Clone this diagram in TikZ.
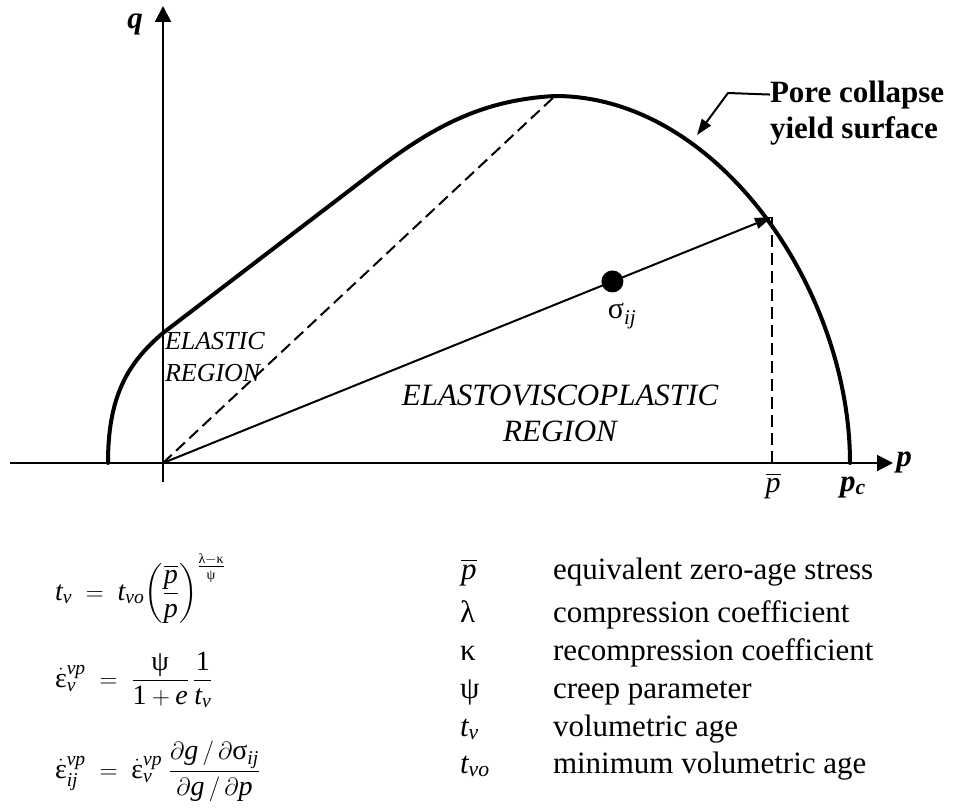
\documentclass[tikz,border=0pt]{standalone}
\usepackage{amsmath}
\usepackage{fontspec}
\setmainfont{Liberation Serif}
\usetikzlibrary{arrows.meta,calc}
\newcommand{\mi}[1]{\text{\normalfont\itshape #1}}
\newcommand{\mr}[1]{\text{\normalfont #1}}
\newcommand{\fs}[1]{\fontsize{#1}{#1}\selectfont}
\begin{document}
\begin{tikzpicture}[x=1pt,y=-1pt,
  axis/.style={line width=2pt,-{Triangle[length=16pt,width=16pt]}},
  curve/.style={line width=4pt,line join=round,line cap=round},
  dashline/.style={line width=2pt,dash pattern=on 12pt off 6pt},
  vec/.style={line width=2pt,-{Triangle[length=17pt,width=11pt]}},
  leader/.style={line width=2pt,-{Triangle[length=16pt,width=11pt]}},
  txt/.style={inner sep=0pt,outer sep=0pt},
  lbl/.style={txt,anchor=base west,font=\fs{31}},
  sym/.style={txt,anchor=base west,font=\fs{31}},
  eq/.style={txt,anchor=base west,font=\fs{28}},
  dot/.style={circle,fill=black,inner sep=0pt,minimum size=22pt}]
\useasboundingbox (0,0) rectangle (955,808);
% coordinates
\coordinate (O) at (163,463);
\coordinate (xL) at (10,463);
\coordinate (xR) at (893,463);
\coordinate (yB) at (163,482);
\coordinate (yT) at (163,6);
\coordinate (C0) at (108,463);
\coordinate (C1) at (163,333);
\coordinate (C2) at (367,177);
\coordinate (P) at (555,96);
\coordinate (pc) at (850,463);
\coordinate (S) at (772,217);
\coordinate (L2) at (728,93);
\coordinate (L3) at (697,135);
% axes
\draw[axis] (yB) -- (yT);
\draw[axis] (xL) -- (xR);
% dashed guides
\draw[dashline] (O) -- (P);
\draw[dashline] (S) -- (S |- O);
% yield surface
\draw[curve] (C0) .. controls (108,400) and (125,365) .. (C1)
  -- (C2) .. controls (430,128) and (480,100) .. (P)
  .. controls (718,96) and (850,290) .. (pc);
% stress path
\draw[vec] (O) -- (S);
\node[dot] (sig) at ($(O)!0.738!(S)$) {};
\node[txt,font=\fs{30}] (siglbl) at (622,316) {$\mr{σ}_{\mi{ij}}$};
% axis labels
\node[txt,font=\fs{31}\bfseries\itshape] (qlbl) at (135,24) {q};
\node[txt,font=\fs{31}\bfseries\itshape] (plbl) at (904,462) {p};
\node[txt,font=\fs{30}] (pbarlbl) at (773,486) {$\overline{\mi{p}}$};
\node[txt,font=\fs{31}\bfseries\itshape] (pclbl) at (853,487) {p\textsubscript{c}};
% region labels
\node[txt,anchor=base west,font=\fs{26}\itshape] (el1) at (165,349) {ELASTIC};
\node[txt,anchor=base west,font=\fs{26}\itshape] (el2) at (165,381) {REGION};
\node[txt,anchor=base,font=\fs{31}\itshape] (ev1) at (560,405) {ELASTOVISCOPLASTIC};
\node[txt,anchor=base,font=\fs{31}\itshape] (ev2) at (560,441) {REGION};
% surface label
\node[txt,anchor=base west,font=\fs{31}\bfseries] (pore) at (770,102) {Pore collapse};
\node[txt,anchor=base west,font=\fs{31}\bfseries] (yield) at (770,138) {yield surface};
\draw[leader] (pore.west) -- (L2) -- (L3);
% equations
\node[eq] (eq1) at (55,600) {$\mi{t}_{\mi{v}} \;=\; \mi{t}_{\mi{vo}}\!\left(\dfrac{\overline{\mi{p}}}{\mi{p}}\right)^{\frac{\mr{λ}-\mr{κ}}{\mr{ψ}}}$};
\node[eq] (eq2) at (55,687) {$\dot{\mr{ε}}_{\mi{v}}^{\mi{vp}} \;=\; \dfrac{\mr{ψ}}{\mr{1}+\mi{e}}\,\dfrac{\mr{1}}{\mi{t}_{\mi{v}}}$};
\node[eq] (eq3) at (55,778) {$\dot{\mr{ε}}_{\mi{ij}}^{\mi{vp}} \;=\; \dot{\mr{ε}}_{\mi{v}}^{\mi{vp}}\;\dfrac{\partial \mi{g}\,/\,\partial\mr{σ}_{\mi{ij}}}{\partial \mi{g}\,/\,\partial \mi{p}}$};
% legend
\node[sym] (s1) at (461,579) {$\overline{\mi{p}}$};
\node[sym] (s2) at (460,622) {λ};
\node[sym] (s3) at (460,660) {κ};
\node[sym] (s4) at (460,698) {ψ};
\node[sym] (s5) at (460,736) {$\mi{t}_{\mi{v}}$};
\node[sym] (s6) at (460,773) {$\mi{t}_{\mi{vo}}$};
\node[lbl] (d1) at (553,579) {equivalent zero-age stress};
\node[lbl] (d2) at (553,622) {compression coefficient};
\node[lbl] (d3) at (553,660) {recompression coefficient};
\node[lbl] (d4) at (553,698) {creep parameter};
\node[lbl] (d5) at (553,736) {volumetric age};
\node[lbl] (d6) at (553,773) {minimum volumetric age};
\end{tikzpicture}
\end{document}
